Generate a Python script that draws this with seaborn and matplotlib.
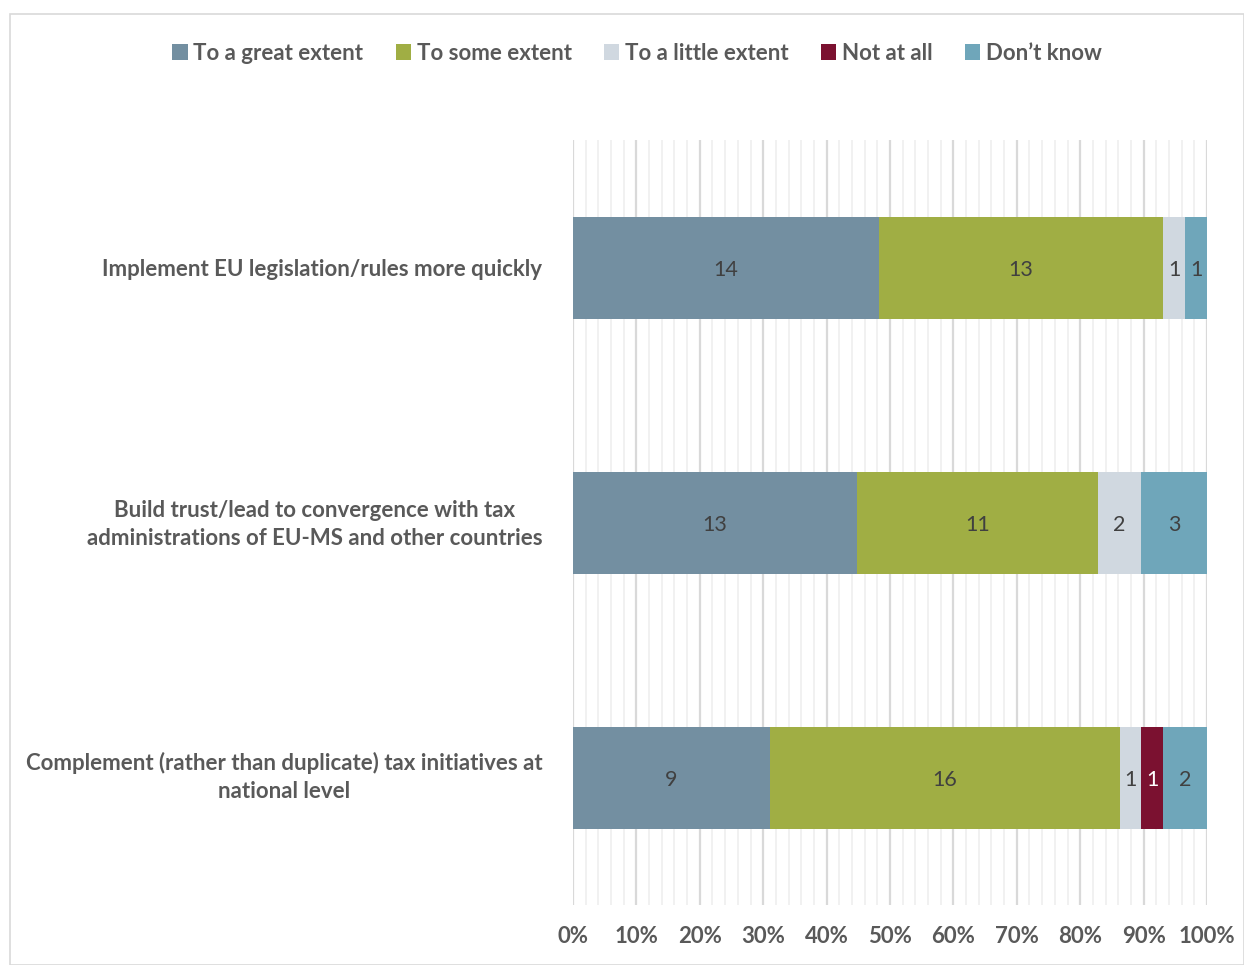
import matplotlib
matplotlib.use("Agg")
import matplotlib.pyplot as plt
from matplotlib.patches import Rectangle, Patch
from matplotlib.ticker import MultipleLocator, PercentFormatter
import numpy as np
import pandas as pd
import seaborn as sns

categories = [
    "Implement EU legislation/rules more quickly",
    "Build trust/lead to convergence with tax\nadministrations of EU-MS and other countries",
    "Complement (rather than duplicate) tax initiatives at\nnational level",
]
series_names = ["To a great extent", "To some extent", "To a little extent", "Not at all", "Don\u2019t know"]
great = [14, 13, 9]
some = [13, 11, 16]
little = [1, 2, 1]
not_at_all = [0, 0, 1]
dont_know = [1, 3, 2]
colors = ["#738FA1", "#A0AE44", "#D0D8E0", "#7B1130", "#6FA6BA"]
label_colors = ["#404040", "#404040", "#404040", "#FFFFFF", "#404040"]

sns.set_theme(style="white")
plt.rcParams["font.family"] = ["Lato", "DejaVu Sans"]

counts = np.array([great, some, little, not_at_all, dont_know], dtype=float)
totals = counts.sum(axis=0)
pct = counts / totals * 100
cum = np.cumsum(pct, axis=0)

fig = plt.figure(figsize=(12.44, 9.65), dpi=100)
ax = fig.add_axes([573 / 1244, 1 - 905 / 965, 634 / 1244, 765 / 965])

# draw cumulative bars widest first so they stack visually
for i in range(len(series_names) - 1, -1, -1):
    df = pd.DataFrame({"cat": categories, "val": cum[i]})
    sns.barplot(data=df, x="val", y="cat", orient="h", color=colors[i],
                width=0.4, ax=ax, saturation=1, zorder=3, edgecolor="none",
                linewidth=0)

# value labels
for i in range(len(series_names)):
    for j in range(len(categories)):
        if counts[i, j] > 0:
            left = cum[i, j] - pct[i, j]
            ax.text(left + pct[i, j] / 2, j + 0.008, f"{int(counts[i, j])}",
                    ha="center", va="center", fontsize=15.5,
                    color=label_colors[i], zorder=5)

ax.set_xlim(0, 100)
ax.set_ylim(2.5, -0.5)
ax.xaxis.set_major_locator(MultipleLocator(10))
ax.xaxis.set_minor_locator(MultipleLocator(2))
ax.xaxis.set_major_formatter(PercentFormatter(decimals=0))
ax.grid(True, axis="x", which="major", color="#D9D9D9", linewidth=1.6, zorder=0)
ax.grid(True, axis="x", which="minor", color="#EFEFEF", linewidth=1.2, zorder=0)
ax.set_axisbelow(True)
for s in ax.spines.values():
    s.set_visible(False)
ax.set_xlabel("")
ax.set_ylabel("")
ax.tick_params(axis="x", which="both", length=0, pad=15, labelsize=16, labelcolor="#595959")
ax.tick_params(axis="y", length=0, pad=22, labelsize=16, labelcolor="#595959")
for lab in ax.get_xticklabels():
    lab.set_fontweight("bold")
ylabs = ax.get_yticklabels()
for k, lab in enumerate(ylabs):
    lab.set_fontweight("bold")
    lab.set_multialignment("center")
    lab.set_linespacing(1.45)
ax.set_yticks([0, 0.985, 1.975])
ax.set_yticklabels(categories, fontweight="bold", multialignment="center", linespacing=1.45)

handles = [Patch(facecolor=c, edgecolor="none") for c in colors]
fig.legend(handles, series_names, loc="center", bbox_to_anchor=(637 / 1244, 1 - 53 / 965),
           ncol=5, frameon=False, handlelength=0.7, handleheight=0.7, handletextpad=0.25,
           columnspacing=1.45, prop={"size": 16, "weight": "bold"}, labelcolor="#595959")

fig.patches.append(Rectangle((10 / 1244, 0), 1 - 10 / 1244, 1 - 14 / 965,
                             transform=fig.transFigure, fill=False,
                             edgecolor="#D9D9D9", linewidth=1.2))

fig.savefig("out.png", dpi=100)
